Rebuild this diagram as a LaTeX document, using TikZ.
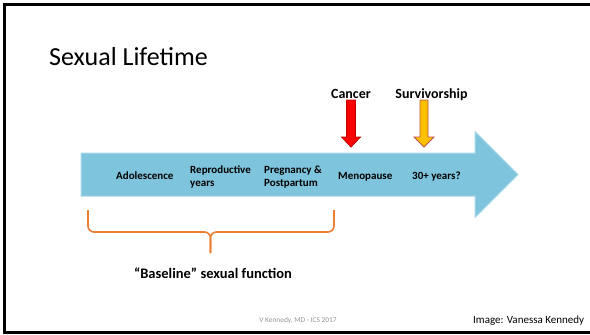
\documentclass[tikz,border=0pt]{standalone}
\usepackage{fontspec}
\setmainfont{Carlito}
\definecolor{timeblue}{RGB}{126,196,221}
\definecolor{timeedge}{RGB}{168,216,234}
\definecolor{bracecol}{RGB}{237,125,49}
\definecolor{cancerred}{RGB}{255,0,0}
\definecolor{cancerdark}{RGB}{192,0,0}
\definecolor{survgold}{RGB}{255,192,0}
\definecolor{survdark}{RGB}{192,80,77}
\definecolor{footgray}{RGB}{150,150,150}
\begin{document}
\begin{tikzpicture}[x=1pt,y=-1pt,
	stage/.style={font=\fontsize{11}{13}\selectfont\bfseries,align=left,inner sep=0pt},
	marker/.style={font=\fontsize{14}{16}\selectfont\bfseries,inner sep=0pt,anchor=base},
	frameline/.style={line width=3pt},
	brace/.style={draw=bracecol,line width=1.6pt,rounded corners=6pt}]
	\useasboundingbox (0,0) rectangle (590,335);
	\fill[white] (0,0) rectangle (590,335);
	\draw[frameline] (590,4.5) -- (4.5,4.5) -- (4.5,332.5) -- (590,332.5);
	\node[anchor=base west,inner sep=0pt,font=\fontsize{26}{30}\selectfont] at (49,65) (title) {Sexual Lifetime};
	\filldraw[fill=timeblue,draw=timeedge,line width=1pt] (81,153) -- (475,153) -- (475,131.5) -- (518,174.5) -- (475,217.5) -- (475,196) -- (81,196) -- cycle;
	\node[stage,anchor=base west] at (116,179) (adol) {Adolescence};
	\node[stage,anchor=west] at (190,177) (repro) {Reproductive\\years};
	\node[stage,anchor=west] at (264,177) (preg) {Pregnancy \&\\Postpartum};
	\node[stage,anchor=base west] at (338,179) (meno) {Menopause};
	\node[stage,anchor=base west] at (412,179) (thirty) {30+ years?};
	\node[marker] at (351,98) (cancer) {Cancer};
	\node[marker] at (431.5,98) (surv) {Survivorship};
	\filldraw[fill=cancerred,draw=cancerdark,line width=0.8pt] (346.5,100) -- (355.5,100) -- (355.5,137) -- (360.5,137) -- (351,147) -- (341.5,137) -- (346.5,137) -- cycle;
	\filldraw[fill=survgold,draw=survdark,line width=0.8pt] (420,100) -- (428,100) -- (428,137) -- (434,137) -- (424,147) -- (414,137) -- (420,137) -- cycle;
	\draw[brace] (88,210) -- (88,232) -- (210.5,232) -- (210.5,253);
	\draw[brace] (334,210) -- (334,232) -- (210.5,232) -- (210.5,253);
	\node[anchor=base,inner sep=0pt,font=\fontsize{14.5}{16}\selectfont\bfseries] at (213,278) (baseline) {“Baseline” sexual function};
	\node[anchor=base,inner sep=0pt,font=\fontsize{7.4}{9}\selectfont,text=footgray] at (298,322.5) (footer) {V Kennedy, MD - ICS 2017};
	\node[anchor=base west,inner sep=0pt,font=\fontsize{11}{13}\selectfont] at (473,323) (credit) {Image: Vanessa Kennedy};
\end{tikzpicture}
\end{document}
